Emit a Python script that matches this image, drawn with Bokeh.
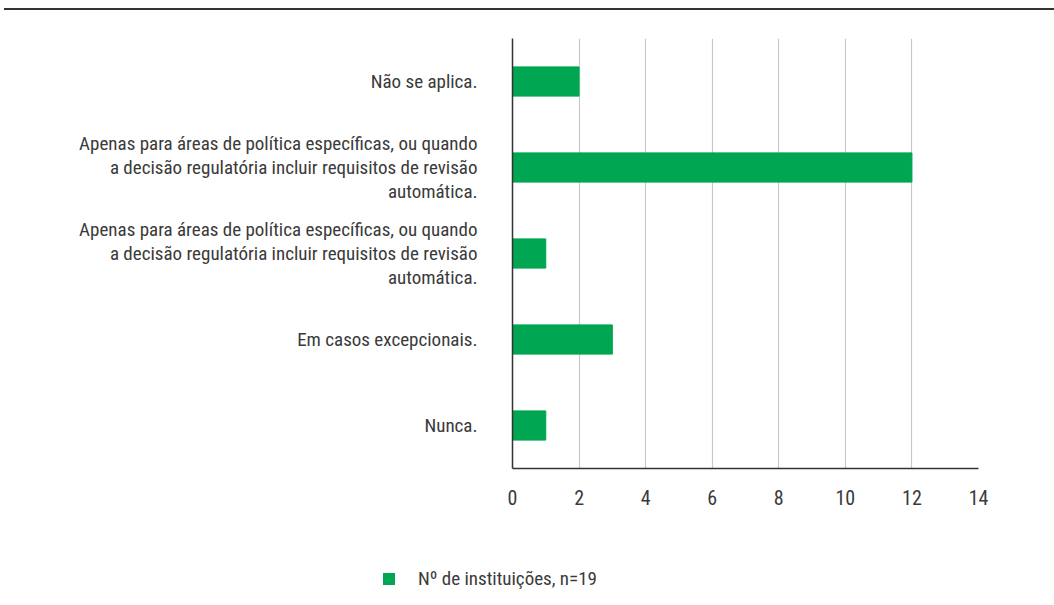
from bokeh.plotting import figure
from bokeh.models import Range1d, FixedTicker, Div, Legend, LegendItem
from bokeh.layouts import column, row
from bokeh.embed import file_html
from bokeh.resources import INLINE

categories = [
    "Não se aplica.",
    "Apenas para áreas de política específicas, ou quando\na decisão regulatória incluir requisitos de revisão\nautomática.",
    "Apenas para áreas de política específicas, ou quando\na decisão regulatória incluir requisitos de revisão\nautomática.",
    "Em casos excepcionais.",
    "Nunca.",
]
values = [2, 12, 1, 3, 1]
x_ticks = [0, 2, 4, 6, 8, 10, 12, 14]
series_name = "Nº de instituições, n=19"

FONT = "Liberation Sans Narrow, Roboto Condensed, Liberation Sans, sans-serif"
TXT = "#3a3a3a"
GREEN = "#00A651"

positions = list(range(len(categories)))

p = figure(
    frame_width=466, frame_height=430,
    min_border_left=512, min_border_right=60, min_border_top=28,
    min_border_bottom=50,
    x_range=Range1d(0, 14), y_range=Range1d(len(categories) - 0.5, -0.5),
    output_backend="svg", toolbar_location=None,
)
p.outline_line_color = None
p.hbar(y=positions, right=values, left=0, height=0.34, color=GREEN)

p.xaxis.ticker = FixedTicker(ticks=x_ticks)
p.xaxis.major_tick_line_color = None
p.xaxis.minor_tick_line_color = None
p.xaxis.axis_line_color = "#333333"
p.xaxis.axis_line_width = 1.5
p.xaxis.major_label_standoff = 15
p.xaxis.major_label_text_font = FONT
p.xaxis.major_label_text_font_size = "20px"
p.xaxis.major_label_text_color = TXT

p.yaxis.ticker = FixedTicker(ticks=positions)
p.yaxis.major_label_overrides = {i: c for i, c in enumerate(categories)}
p.yaxis.major_tick_line_color = None
p.yaxis.minor_tick_line_color = None
p.yaxis.axis_line_color = "#333333"
p.yaxis.axis_line_width = 1.5
p.yaxis.major_label_standoff = 29
p.yaxis.major_label_text_font = FONT
p.yaxis.major_label_text_font_size = "19px"
p.yaxis.major_label_text_color = TXT
p.yaxis.major_label_text_align = "right"
p.yaxis.major_label_text_line_height = 1.05

p.xgrid.grid_line_color = "#c8c8c8"
p.xgrid.grid_line_width = 1.2
p.ygrid.grid_line_color = None

# legend strip below the chart (its renderer's only point lies far outside the view)
lg = figure(frame_width=1000, frame_height=80, min_border=0,
            x_range=Range1d(0, 1), y_range=Range1d(0, 1),
            output_backend="svg", toolbar_location=None)
lg.axis.visible = False
lg.grid.visible = False
lg.outline_line_color = None
lr = lg.hbar(y=[50], right=[60], left=50, height=0.5,
             fill_color=GREEN, line_color=None)
legend = Legend(items=[LegendItem(label=series_name, renderers=[lr])],
                orientation="horizontal", location=(381, 8))
legend.border_line_color = None
legend.background_fill_alpha = 0
legend.label_text_font = FONT
legend.label_text_font_size = "19px"
legend.label_text_color = TXT
legend.glyph_width = 15
legend.glyph_height = 15
legend.label_standoff = 22
legend.padding = 5
legend.margin = 0
lg.add_layout(legend, "center")

top_line = Div(width=1050, height=2, margin=(8, 0, 0, 4),
               styles={"background-color": "#333333"})
layout = column(top_line, p, row(lg), spacing=0)

open("out.html", "w").write(file_html(layout, INLINE))
